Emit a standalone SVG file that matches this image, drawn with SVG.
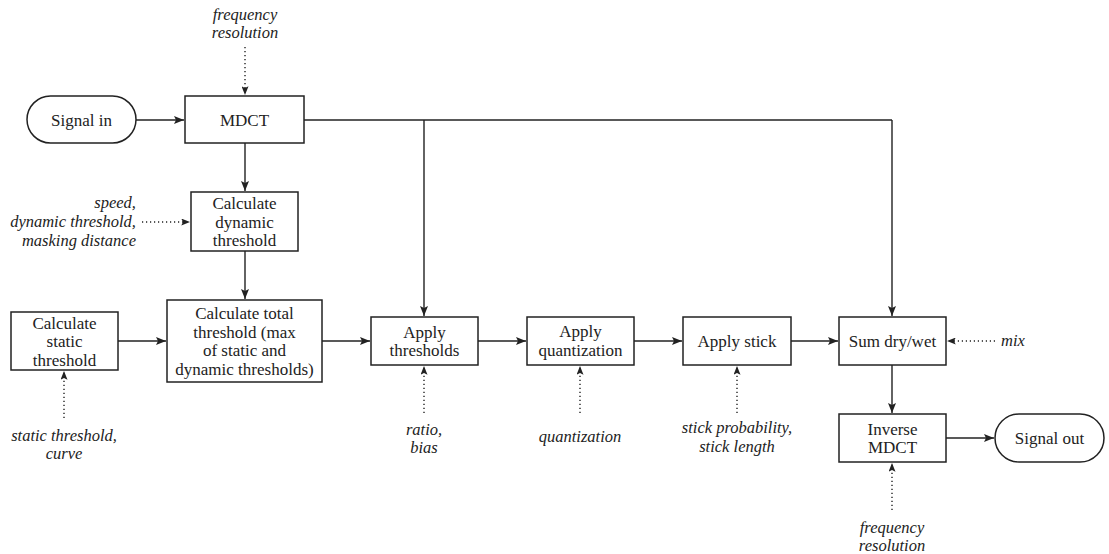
<svg xmlns="http://www.w3.org/2000/svg" width="1109" height="554" viewBox="0 0 1109 554">
<defs>
<marker id="ah" viewBox="0 0 10 8" refX="10" refY="4" markerWidth="10" markerHeight="8" markerUnits="userSpaceOnUse" orient="auto">
<path d="M0,0 L10,4 L0,8 L2,4 Z" fill="#222"/>
</marker>
<marker id="ahd" viewBox="0 0 10 8" refX="10" refY="4" markerWidth="9" markerHeight="7" markerUnits="userSpaceOnUse" orient="auto">
<path d="M0,0 L10,4 L0,8 L2,4 Z" fill="#222"/>
</marker>
</defs>
<style>
.box{fill:#fff;stroke:#222;stroke-width:1.5}
.t{font-size:17px;fill:#222;text-anchor:middle}
.i{font-size:16.5px;font-style:italic;fill:#222;text-anchor:middle}
.c{fill:none;stroke:#222;stroke-width:1.4;marker-end:url(#ah)}
.l{fill:none;stroke:#222;stroke-width:1.4}
.d{fill:none;stroke:#222;stroke-width:1.4;stroke-dasharray:1.2 2.8;marker-end:url(#ahd)}
</style>
<rect width="1109" height="554" fill="#fff"/>
<g id="connectors">
<path class="c" d="M136,120 H184"/>
<path class="l" d="M304,120 H892"/>
<path class="c" d="M424,120 V316"/>
<path class="c" d="M892,120 V316"/>
<path class="c" d="M245,143 V191"/>
<path class="c" d="M245,251 V299"/>
<path class="c" d="M118,341 H166"/>
<path class="c" d="M322,341 H370"/>
<path class="c" d="M478,341 H526"/>
<path class="c" d="M634,341 H682"/>
<path class="c" d="M791,341 H838"/>
<path class="c" d="M892,365 V413"/>
<path class="c" d="M946,438 H994"/>
<path class="d" d="M245,47 V95"/>
<path class="d" d="M142,222 H190"/>
<path class="d" d="M64,418 V371"/>
<path class="d" d="M424,413 V366"/>
<path class="d" d="M580,413 V366"/>
<path class="d" d="M737,413 V366"/>
<path class="d" d="M995,341 H947"/>
<path class="d" d="M892,510 V463"/>
</g>
<g font-family="Liberation Serif, serif">
<g id="signal-in"><rect class="box" x="27" y="96" width="109" height="47" rx="23.5"/><text class="t" x="81.5" y="125.5">Signal in</text></g>
<g id="mdct"><rect class="box" x="185" y="96" width="119" height="47"/><text class="t" x="244.5" y="125.5">MDCT</text></g>
<g id="calc-dynamic"><rect class="box" x="191" y="192" width="107" height="59"/><text class="t" x="244.5" y="209">Calculate</text><text class="t" x="244.5" y="227.5">dynamic</text><text class="t" x="244.5" y="246">threshold</text></g>
<g id="calc-static"><rect class="box" x="11" y="312" width="107" height="58"/><text class="t" x="64.5" y="328.5">Calculate</text><text class="t" x="64.5" y="347">static</text><text class="t" x="64.5" y="365.5">threshold</text></g>
<g id="calc-total"><rect class="box" x="167" y="300" width="155" height="82"/><text class="t" x="244.5" y="319">Calculate total</text><text class="t" x="244.5" y="337.5">threshold (max</text><text class="t" x="244.5" y="356">of static and</text><text class="t" x="244.5" y="374.5">dynamic thresholds)</text></g>
<g id="apply-thresholds"><rect class="box" x="371" y="317" width="107" height="48"/><text class="t" x="424.5" y="337.5">Apply</text><text class="t" x="424.5" y="356">thresholds</text></g>
<g id="apply-quantization"><rect class="box" x="527" y="317" width="107" height="48"/><text class="t" x="580.5" y="337">Apply</text><text class="t" x="580.5" y="355.5">quantization</text></g>
<g id="apply-stick"><rect class="box" x="683" y="317" width="108" height="48"/><text class="t" x="737" y="346.5">Apply stick</text></g>
<g id="sum-dry-wet"><rect class="box" x="839" y="317" width="107" height="48"/><text class="t" x="892.5" y="346.5">Sum dry/wet</text></g>
<g id="inverse-mdct"><rect class="box" x="839" y="414" width="107" height="48"/><text class="t" x="892.5" y="434.5">Inverse</text><text class="t" x="892.5" y="453">MDCT</text></g>
<g id="signal-out"><rect class="box" x="995" y="414" width="109" height="48" rx="24"/><text class="t" x="1049.5" y="443.5">Signal out</text></g>
</g>
<g id="labels" font-family="Liberation Serif, serif">
<text class="i" x="245" y="20">frequency</text><text class="i" x="245" y="38">resolution</text>
<text class="i" x="136" y="208" style="text-anchor:end">speed,</text>
<text class="i" x="136" y="227" style="text-anchor:end">dynamic threshold,</text>
<text class="i" x="136" y="245.5" style="text-anchor:end">masking distance</text>
<text class="i" x="64" y="441">static threshold,</text><text class="i" x="64" y="459">curve</text>
<text class="i" x="424" y="435">ratio,</text><text class="i" x="424" y="453">bias</text>
<text class="i" x="580" y="442">quantization</text>
<text class="i" x="737" y="433">stick probability,</text><text class="i" x="737" y="452">stick length</text>
<text class="i" x="1001" y="346" style="text-anchor:start">mix</text>
<text class="i" x="892" y="533">frequency</text><text class="i" x="892" y="551">resolution</text>
</g>
</svg>
